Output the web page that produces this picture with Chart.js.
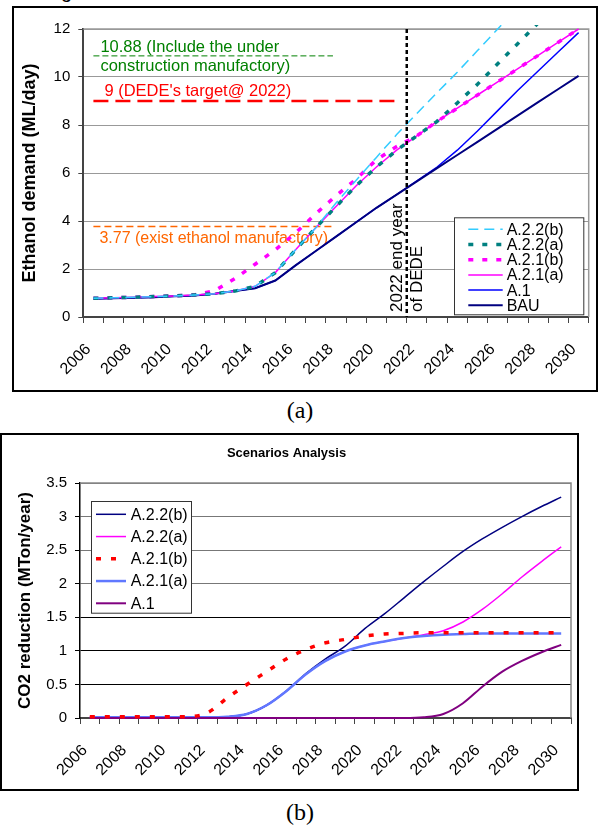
<!DOCTYPE html>
<html>
<head>
<meta charset="utf-8">
<script src="https://cdn.jsdelivr.net/npm/chart.js@4.4.1/dist/chart.umd.min.js"></script>
<style>
	body { margin: 0; width: 600px; height: 829px; background: #fff; position: relative; overflow: hidden; font-family: "Liberation Sans", Arial, sans-serif; }
	.box { position: absolute; border: 2px solid #000; box-sizing: border-box; }
	.caption { position: absolute; left: 0; width: 600px; text-align: center; font-family: "Liberation Serif", "Times New Roman", serif; font-size: 24px; line-height: 28px; }
	.cut { position: absolute; left: 61px; top: -19px; font-size: 20px; line-height: 20px; }
	canvas { position: absolute; }
</style>
</head>
<body>
<div class="cut">g</div>
<div class="box" style="left:12px;top:6px;width:586px;height:386px"></div>
<canvas id="demandChart" width="582" height="382" style="left:14px;top:8px"></canvas>
<div class="caption" style="top:396px">(a)</div>

<div class="box" style="left:0px;top:433px;width:579px;height:358px"></div>
<canvas id="reductionChart" width="575" height="354" style="left:2px;top:435px"></canvas>
<div class="caption" style="top:798px">(b)</div>

<script>
// categories
const years = ['2006', '2007', '2008', '2009', '2010', '2011', '2012', '2013', '2014', '2015', '2016', '2017', '2018',
	'2019', '2020', '2021', '2022', '2023', '2024', '2025', '2026', '2027', '2028', '2029', '2030'];

// (a) ethanol demand, ML/day
const demandBAU = [0.76, 0.78, 0.8, 0.82, 0.86, 0.9, 0.97, 1.08, 1.2, 1.52, 2.15, 2.75, 3.35, 3.95, 4.55, 5.1, 5.65, 6.2, 6.75, 7.3, 7.85, 8.4, 8.95, 9.5, 10.05];
const demandA1 = [0.76, 0.78, 0.8, 0.82, 0.86, 0.9, 0.97, 1.08, 1.2, 1.52, 2.15, 2.75, 3.35, 3.95, 4.55, 5.1, 5.67, 6.25, 6.95, 7.75, 8.6, 9.45, 10.25, 11.05, 11.85];
const demandA21a = [0.78, 0.8, 0.82, 0.85, 0.88, 0.92, 0.97, 1.08, 1.28, 1.85, 2.8, 3.72, 4.6, 5.47, 6.25, 6.95, 7.55, 8.15, 8.7, 9.25, 9.8, 10.35, 10.9, 11.45, 12.0];
const demandA21b = [0.78, 0.8, 0.82, 0.85, 0.88, 0.92, 1.1, 1.6, 2.2, 2.8, 3.5, 4.3, 5.05, 5.75, 6.55, 7.1, 7.55, 8.15, 8.7, 9.25, 9.8, 10.35, 10.9, 11.45, 12.0];
const demandA22a = [0.78, 0.8, 0.82, 0.85, 0.88, 0.92, 0.97, 1.08, 1.28, 1.85, 2.8, 3.72, 4.6, 5.47, 6.25, 6.95, 7.55, 8.15, 8.92, 9.7, 10.55, 11.4, 12.25, 13.1, 13.95];
const demandA22b = [0.78, 0.8, 0.82, 0.85, 0.88, 0.92, 0.97, 1.08, 1.28, 1.85, 2.8, 3.72, 4.75, 5.7, 6.65, 7.6, 8.48, 9.35, 10.2, 11.1, 12.0, 12.9, 13.8, 14.7, 15.6];

// (a) reference capacities and where their dashed lines stop (category index)
const refLevels = [10.88, 9, 3.77];
const refEnds = [11.85, 15, 11.85];
const dedeYearPos = 15.5;

// (b) CO2 reduction, MTon/year
const co2A22b = [0.01, 0.01, 0.01, 0.01, 0.01, 0.01, 0.01, 0.02, 0.06, 0.19, 0.4, 0.66, 0.88, 1.07, 1.33, 1.55, 1.79, 2.03, 2.26, 2.48, 2.67, 2.84, 3.0, 3.15, 3.29];
const co2A22a = [0.01, 0.01, 0.01, 0.01, 0.01, 0.01, 0.01, 0.02, 0.06, 0.19, 0.4, 0.65, 0.85, 0.99, 1.08, 1.14, 1.19, 1.24, 1.3, 1.43, 1.62, 1.85, 2.1, 2.33, 2.55];
const co2A21b = [0.02, 0.02, 0.02, 0.02, 0.02, 0.02, 0.08, 0.3, 0.5, 0.69, 0.88, 1.02, 1.12, 1.17, 1.22, 1.25, 1.26, 1.27, 1.27, 1.27, 1.27, 1.27, 1.27, 1.27, 1.27];
const co2A21a = [0.01, 0.01, 0.01, 0.01, 0.01, 0.01, 0.01, 0.02, 0.06, 0.19, 0.4, 0.65, 0.85, 0.99, 1.08, 1.14, 1.19, 1.22, 1.24, 1.25, 1.26, 1.26, 1.26, 1.26, 1.26];
const co2A1 = [0, 0, 0, 0, 0, 0, 0, 0, 0, 0, 0, 0, 0, 0, 0, 0, 0, 0.01, 0.06, 0.22, 0.47, 0.69, 0.85, 0.98, 1.09];

Chart.defaults.font.family = '"Liberation Sans", Arial, sans-serif';
Chart.defaults.color = '#000';

function line(label, data, color, width, dash, order) {
	return {
		label: label,
		data: data,
		borderColor: color,
		backgroundColor: color,
		borderWidth: width,
		borderDash: dash || [],
		borderCapStyle: 'butt',
		pointRadius: 0,
		fill: false,
		clip: 4,
		order: order || 0
	};
}

function yearTicks(height) {
	return {
		offset: true,
		grid: { offset: true, drawOnChartArea: false, tickLength: 6, color: '#444', lineWidth: 1 },
		border: { color: '#444', width: 2 },
		ticks: {
			autoSkip: false,
			minRotation: 45,
			maxRotation: 45,
			padding: 17,
			labelOffset: -5,
			font: { size: 16 },
			callback: function (value, index) {
				return index % 2 ? '' : this.getLabelForValue(value);
			}
		},
		afterFit: (scale) => {
			scale.height = height;
			scale.paddingLeft = 0;
			scale.paddingRight = 0;
		}
	};
}

// top and right edge of the plot area
const plotFrame = {
	id: 'plotFrame',
	beforeDatasetsDraw(chart, args, opts) {
		const { ctx, chartArea: a } = chart;
		ctx.save();
		ctx.strokeStyle = opts.color;
		ctx.lineWidth = 1.5;
		ctx.beginPath();
		ctx.moveTo(a.left, a.top);
		ctx.lineTo(a.right, a.top);
		ctx.lineTo(a.right, a.bottom);
		ctx.stroke();
		ctx.restore();
	}
};

// legend box inside the plot, drawn from the datasets' own styles
const boxLegend = {
	id: 'boxLegend',
	afterDraw(chart, args, opts) {
		const { ctx } = chart;
		ctx.save();
		ctx.fillStyle = '#fff';
		ctx.fillRect(opts.x, opts.y, opts.w, opts.h);
		ctx.strokeStyle = '#333';
		ctx.lineWidth = 1;
		ctx.strokeRect(opts.x + 0.5, opts.y + 0.5, opts.w, opts.h);
		chart.data.datasets.forEach((ds, k) => {
			const cy = opts.y + opts.first + k * opts.step;
			ctx.beginPath();
			ctx.setLineDash(ds.borderDash);
			ctx.lineWidth = ds.borderWidth;
			ctx.strokeStyle = ds.borderColor;
			ctx.moveTo(opts.lineFrom, cy);
			ctx.lineTo(opts.lineTo, cy);
			ctx.stroke();
			ctx.setLineDash([]);
			ctx.fillStyle = '#000';
			ctx.font = opts.fontSize + 'px "Liberation Sans", Arial, sans-serif';
			ctx.textBaseline = 'middle';
			ctx.fillText(ds.label, opts.textX, cy + 1);
		});
		ctx.restore();
	}
};

// capacity lines, their notes and the DEDE end year marker
const demandNotes = {
	id: 'demandNotes',
	beforeDatasetsDraw(chart) {
		const { ctx, scales: { x, y } } = chart;
		const x0 = x.getPixelForValue(0);
		const styles = [
			{ color: '#008000', width: 1, dash: [6, 3] },
			{ color: '#FF0000', width: 2.5, dash: [15, 7] },
			{ color: '#FF6600', width: 1.5, dash: [7, 4] }
		];
		ctx.save();
		refLevels.forEach((v, i) => {
			const py = y.getPixelForValue(v);
			ctx.beginPath();
			ctx.strokeStyle = styles[i].color;
			ctx.lineWidth = styles[i].width;
			ctx.setLineDash(styles[i].dash);
			ctx.moveTo(x0, py);
			ctx.lineTo(x.getPixelForValue(refEnds[i]), py);
			ctx.stroke();
		});
		ctx.setLineDash([]);
		ctx.font = '16.5px "Liberation Sans", Arial, sans-serif';
		ctx.textBaseline = 'alphabetic';
		let py = y.getPixelForValue(refLevels[0]);
		ctx.fillStyle = '#008000';
		ctx.fillText('10.88 (Include the under', x0 + 7, py - 3.5);
		ctx.fillText('construction manufactory)', x0 + 7, py + 15);
		py = y.getPixelForValue(refLevels[1]);
		ctx.fillStyle = '#FF0000';
		ctx.fillText("9 (DEDE's target@ 2022)", x0 + 11, py - 5);
		py = y.getPixelForValue(refLevels[2]);
		ctx.fillStyle = '#FF6600';
		ctx.font = '16px "Liberation Sans", Arial, sans-serif';
		ctx.fillText('3.77 (exist ethanol manufactory)', x0 + 6, py + 16.5);
		ctx.restore();
	},
	afterDatasetsDraw(chart) {
		const { ctx, chartArea: a, scales: { x } } = chart;
		const lx = x.getPixelForValue(dedeYearPos);
		ctx.save();
		ctx.beginPath();
		ctx.strokeStyle = '#000';
		ctx.lineWidth = 2.5;
		ctx.setLineDash([4, 3]);
		ctx.moveTo(lx, a.top);
		ctx.lineTo(lx, a.bottom);
		ctx.stroke();
		ctx.setLineDash([]);
		ctx.fillStyle = '#000';
		ctx.font = '17px "Liberation Sans", Arial, sans-serif';
		ctx.textBaseline = 'middle';
		ctx.textAlign = 'left';
		[['2022 end year', -9], ['of DEDE', 11]].forEach(([t, dx]) => {
			ctx.save();
			ctx.translate(lx + dx, a.bottom - 5);
			ctx.rotate(-Math.PI / 2);
			ctx.fillText(t, 0, 0);
			ctx.restore();
		});
		ctx.restore();
	}
};

new Chart(document.getElementById('demandChart'), {
	type: 'line',
	data: {
		labels: years,
		datasets: [
			line('A.2.2(b)', demandA22b, '#33CCFF', 1.5, [10, 6], 0),
			line('A.2.2(a)', demandA22a, '#008080', 3.5, [5, 9], 1),
			line('A.2.1(b)', demandA21b, '#FF00FF', 3.5, [5, 9], 2),
			line('A.2.1(a)', demandA21a, '#FF00FF', 1.5, null, 3),
			line('A.1', demandA1, '#0000FF', 1.5, null, 5),
			line('BAU', demandBAU, '#000080', 2, null, 4)
		]
	},
	options: {
		responsive: false,
		animation: false,
		layout: { padding: { top: 21, right: 7.3, left: 0, bottom: 0 } },
		elements: { line: { tension: 0 } },
		scales: {
			x: yearTicks(73),
			y: {
				min: 0,
				max: 12,
				ticks: { stepSize: 2, padding: 8, font: { size: 15 } },
				grid: { color: '#999', tickColor: '#444', tickLength: 5, lineWidth: 1 },
				border: { color: '#444', width: 2 },
				title: { display: true, text: 'Ethanol demand (ML/day)', font: { size: 18, weight: 'bold' }, padding: { top: 5, bottom: 0 } },
				afterFit: (scale) => { scale.width = 69.3; }
			}
		},
		plugins: {
			legend: { display: false },
			tooltip: { enabled: false },
			plotFrame: { color: '#999' },
			boxLegend: { x: 440, y: 209.3, w: 129.3, h: 97, first: 12, step: 15.2, lineFrom: 454.3, lineTo: 488.7, textX: 492.7, fontSize: 16 }
		}
	},
	plugins: [plotFrame, demandNotes, boxLegend]
});

new Chart(document.getElementById('reductionChart'), {
	type: 'line',
	data: {
		labels: years,
		datasets: [
			line('A.2.2(b)', co2A22b, '#000080', 1.5, null, 3),
			line('A.2.2(a)', co2A22a, '#FF00FF', 1.5, null, 4),
			line('A.2.1(b)', co2A21b, '#FF0000', 3.5, [5, 10], 0),
			line('A.2.1(a)', co2A21a, '#6078FF', 2.5, null, 2),
			line('A.1', co2A1, '#800080', 2, null, 1)
		]
	},
	options: {
		responsive: false,
		animation: false,
		layout: { padding: { top: 0, right: 6, left: 0, bottom: 0 } },
		elements: { line: { cubicInterpolationMode: 'monotone' } },
		scales: {
			x: yearTicks(71),
			y: {
				min: 0,
				max: 3.5,
				ticks: { stepSize: 0.5, padding: 8, font: { size: 15 }, callback: (v) => String(v) },
				grid: {
					color: (c) => (c.tick && c.tick.value >= 2 ? '#777' : '#000'),
					tickColor: '#000',
					tickLength: 5,
					lineWidth: 1
				},
				border: { color: '#000', width: 1.5 },
				title: { display: true, text: 'CO2 reduction (MTon/year)', font: { size: 17, weight: 'bold' }, padding: { top: 13.6, bottom: 0 } },
				afterFit: (scale) => { scale.width = 78; }
			}
		},
		plugins: {
			legend: { display: false },
			tooltip: { enabled: false },
			title: { display: true, text: 'Scenarios Analysis', font: { size: 13, weight: 'bold' }, padding: { top: 11, bottom: 21.4 } },
			plotFrame: { color: '#888' },
			boxLegend: { x: 89, y: 66, w: 100, h: 111.7, first: 13.3, step: 22.25, lineFrom: 94, lineTo: 124, textX: 128.7, fontSize: 16 }
		}
	},
	plugins: [plotFrame, boxLegend]
});
</script>
</body>
</html>
